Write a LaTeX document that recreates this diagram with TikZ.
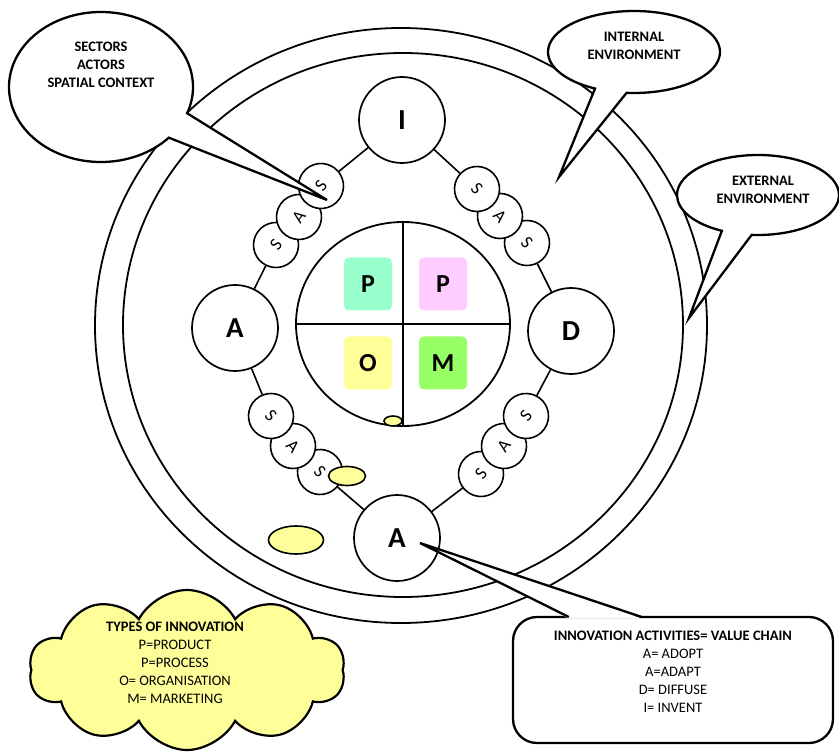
\documentclass[tikz,border=0pt]{standalone}
\usepackage{fontspec}
\setmainfont{Carlito}
\usepackage{tikz}
\usetikzlibrary{
  shapes.geometric,
  shapes.symbols,
  shapes.callouts,
  calc,
  backgrounds
}
\definecolor{prodgreen}{HTML}{99FFCC}
\definecolor{procpink}{HTML}{FFCCFF}
\definecolor{orgyellow}{HTML}{FFFF99}
\definecolor{mktgreen}{HTML}{99FF66}
\tikzset{
  ring/.style = {ellipse, draw, line width=1.8pt, inner sep=0pt},
  stage/.style = {
    circle, draw, fill=white, line width=1.7pt,
    minimum size=86pt, inner sep=0pt,
    font=\fontsize{29}{30}\selectfont\bfseries
  },
  sas/.style = {
    circle, draw, fill=white, line width=1.6pt,
    minimum size=45pt, inner sep=0pt,
    font=\fontsize{18}{18}\selectfont, rotate=#1
  },
  sas/.default = 0,
  typebox/.style = {
    rectangle, rounded corners=5pt, fill=#1,
    minimum width=48pt, minimum height=53pt,
    font=\fontsize{26}{26}\selectfont\bfseries
  },
  blob/.style = {ellipse, draw, fill=orgyellow, line width=1.6pt, inner sep=0pt},
  bubble/.style = {
    ellipse callout, draw, fill=white, line width=2.3pt,
    inner sep=0pt, callout pointer arc=22
  },
  note/.style = {align=center, font=\fontsize{14.5}{18}\selectfont},
  notebf/.style = {align=center, font=\fontsize{14.5}{18}\selectfont\bfseries},
  link/.style = {line width=1.6pt},
}

\begin{document}
\begin{tikzpicture}[x=1pt, y=-1pt]
  \useasboundingbox (0,0) rectangle (839,754);

  %% Environments
  \node[ring, minimum width=612, minimum height=595] (outer) at (401,325.5) {};
  \node[ring, minimum width=560, minimum height=544] (inner) at (403,325) {};

  %% Value chain
  \node[stage] (inv)   at (402,120) {I};
  \node[stage] (adopt) at (235,328) {A};
  \node[stage] (diff)  at (571,331) {D};
  \node[stage] (adapt) at (397,538) {A};

  \node[sas=53]  (ul3) at (276,245) {S};
  \node[sas=53]  (ul2) at (299,217) {A};
  \node[sas=53]  (ul1) at (321,186) {S};

  \node[sas=-47] (ur3) at (527,243) {S};
  \node[sas=-47] (ur2) at (500,216) {A};
  \node[sas=-47] (ur1) at (477,189) {S};

  \node[sas=-47] (ll3) at (320,472) {S};
  \node[sas=-47] (ll2) at (293,446) {A};
  \node[sas=-47] (ll1) at (271,416) {S};

  \node[sas=53]  (lr3) at (481,474) {S};
  \node[sas=53]  (lr2) at (504,446) {A};
  \node[sas=53]  (lr1) at (526,416) {S};

  \begin{scope}[on background layer]
    \draw[link] (inv) -- (ul1);
    \draw[link] (ul3) -- (adopt);
    \draw[link] (adopt) -- (ll1);
    \draw[link] (ll3) -- (adapt);
    \draw[link] (adapt) -- (lr3);
    \draw[link] (lr1) -- (diff);
    \draw[link] (diff) -- (ur3);
    \draw[link] (ur1) -- (inv);
  \end{scope}

  %% Types of innovation
  \node[ellipse, draw, line width=1.8pt, inner sep=0pt,
        minimum width=214, minimum height=204] (core) at (403,324) {};
  \draw[link] (core.north) -- (core.south);
  \draw[link] (core.west) -- (core.east);

  \node[typebox=prodgreen] (prod) at (368,284) {P};
  \node[typebox=procpink]  (proc) at (443,284) {P};
  \node[typebox=orgyellow] (org)  at (368,363) {O};
  \node[typebox=mktgreen]  (mkt)  at (443,363) {M};

  \node[blob, minimum width=18, minimum height=10] (blobA) at (393,421) {};
  \node[blob, minimum width=37, minimum height=19] (blobB) at (347,476) {};
  \node[blob, minimum width=55, minimum height=28] (blobC) at (296,540) {};

  %% Callouts
  \node[bubble, minimum width=184, minimum height=150,
        callout absolute pointer={(327,200)}] (sacbub) at (101,87) {};
  \node[notebf] (sactxt) at (101,65) {SECTORS\\ACTORS\\SPATIAL CONTEXT};

  \node[bubble, minimum width=172, minimum height=82,
        callout absolute pointer={(559,177)}] (intbub) at (634,52) {};
  \node[notebf] (inttxt) at (634,46) {INTERNAL\\ENVIRONMENT};

  \node[bubble, minimum width=162, minimum height=80,
        callout absolute pointer={(689,318)}] (extbub) at (758,195) {};
  \node[notebf] (exttxt) at (763,190) {EXTERNAL\\ENVIRONMENT};

  \node[rectangle, rounded corners=24pt, draw, fill=white, line width=2.3pt,
        minimum width=320, minimum height=126] (actbox) at (673,680) {};
  \coordinate (acttip) at (420,543);
  \fill[white] ($(actbox.north west)+(57,2.6)$) -- (acttip)
    -- ($(actbox.north west)+(130,2.6)$) -- cycle;
  \draw[line width=2.3pt, line join=miter]
    ($(actbox.north west)+(57,1.15)$) -- (acttip)
    -- ($(actbox.north west)+(130,1.15)$);
  \node[note] (acttxt) at (673,672)
    {\textbf{INNOVATION ACTIVITIES= VALUE CHAIN}\\A= ADOPT\\A=ADAPT\\D= DIFFUSE\\I= INVENT};

  \node[cloud, cloud puffs=10, cloud puff arc=125, aspect=1.95,
        draw, fill=orgyellow, line width=2.2pt, inner sep=0pt,
        minimum width=316, minimum height=160] (typecloud) at (187,670) {};
  \node[note] (typetxt) at (175,663)
    {\textbf{TYPES OF INNOVATION}\\P=PRODUCT\\P=PROCESS\\O= ORGANISATION\\M= MARKETING};

\end{tikzpicture}
\end{document}
